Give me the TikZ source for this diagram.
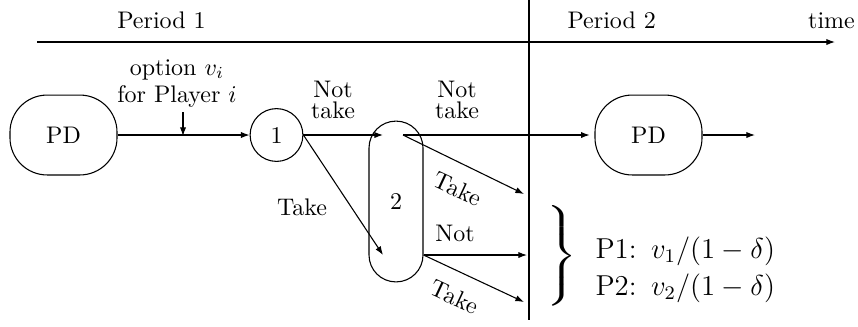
\documentclass[tikz,border=0pt]{standalone}
\usepackage{graphicx}
\usetikzlibrary{arrows.meta}
\begin{document}
\begin{tikzpicture}[x=0.4167pt,y=-0.4167pt,
  >={Latex[length=3.6pt,width=2.6pt]},
  line width=0.45pt,
  pd/.style={draw,rounded corners=15.5pt,minimum width=44.6pt,minimum height=33.3pt,inner sep=0pt},
  chance/.style={draw,circle,minimum size=22pt,inner sep=0pt},
  info/.style={draw,rounded corners=11.2pt,minimum width=22.5pt,minimum height=67pt,inner sep=0pt},
  txt/.style={anchor=base,inner sep=0pt},
  rtxt/.style={anchor=center,inner sep=0pt,rotate=-25},
]
\useasboundingbox (0,0) rectangle (858,326);
% nodes
\node[pd] (pd1) at (63.5,135) {PD};
\node[chance] (c1) at (276.5,135) {1};
\node[info] (n2) at (396,201.5) {2};
\node[pd] (pd2) at (648.5,135) {PD};
% coordinates
\coordinate (axs) at (37,42);
\coordinate (axe) at (835,42);
\coordinate (vtop) at (529,0);
\coordinate (vbot) at (529,320);
\coordinate (opttop) at (183,112);
\coordinate (optbot) at (183,136);
\coordinate (in1) at (383,135);
\coordinate (out1) at (403,135);
\coordinate (in2) at (383,255);
\coordinate (out2) at (n2.east |- in2);
\coordinate (tk1) at (524,194);
\coordinate (nt) at (527,255);
\coordinate (tk2) at (524,302);
\coordinate (fin) at (755,135);
% connectors
\draw[->] (axs) -- (axe);
\draw (vtop) -- (vbot);
\draw[->] (pd1) -- (c1);
\draw[->] (opttop) -- (optbot);
\draw[->] (c1) -- (in1);
\draw[->] (c1.east) -- (in2);
\draw[->,shorten >=2pt] (out1) -- (pd2.west);
\draw[->] (out1) -- (tk1);
\draw[->] (out2) -- (nt);
\draw[->] (out2) -- (tk2);
\draw[->] (pd2) -- (fin);
% labels
\node[txt] (p1) at (161.5,28) {Period 1};
\node[txt] (p2) at (611.7,28) {Period 2};
\node[txt] (tm) at (831.5,28) {time};
\node[txt] (o1) at (177,75) {option $v_i$};
\node[txt] (o2) at (177,102) {for Player $i$};
\node[txt] (nt1a) at (333,97) {Not};
\node[txt] (nt1b) at (333,118) {take};
\node[txt] (nt2a) at (457,97) {Not};
\node[txt] (nt2b) at (457,118) {take};
\node[txt] (tkl) at (302,215) {Take};
\node[txt] (ntl) at (455,241.5) {Not};
\node[rtxt] (tku) at (458,189) {Take};
\node[rtxt] (tkd) at (455,297) {Take};
\node[inner sep=0pt,font=\large] (br) at (560,256) {\scalebox{1.45}[1]{$\left.\vrule height 22.5pt depth 17.5pt width 0pt\right\}$}};
\node[txt,anchor=base west,font=\large] (pay1) at (595,258) {P1:\enspace$v_1/(1-\delta)$};
\node[txt,anchor=base west,font=\large] (pay2) at (595,295) {P2:\enspace$v_2/(1-\delta)$};
\end{tikzpicture}
\end{document}
